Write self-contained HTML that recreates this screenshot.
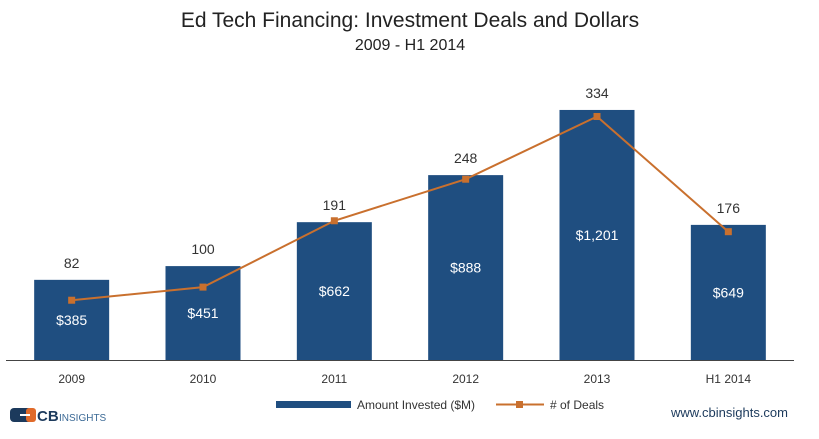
<!DOCTYPE html>
<html><head><meta charset="utf-8"><style>
body{margin:0;background:#fff;width:819px;height:439px;overflow:hidden;font-family:"Liberation Sans",sans-serif}
svg{display:block}
</style></head><body>
<svg id="c" width="819" height="439">
<text x="410" y="27" text-anchor="middle" font-size="21" fill="#222">Ed Tech Financing: Investment Deals and Dollars</text>
<text x="410" y="50" text-anchor="middle" font-size="16" fill="#222">2009 - H1 2014</text>
<g id="bars"></g><g id="line"></g><g id="labels"></g>
<line x1="6" y1="360.5" x2="794" y2="360.5" stroke="#444" stroke-width="1"/>
<g>
<rect x="276" y="401" width="75" height="7" fill="#1f4e80"/>
<text x="357" y="409" font-size="12" fill="#333">Amount Invested ($M)</text>
<line x1="496" y1="404.5" x2="544" y2="404.5" stroke="#c9702e" stroke-width="2"/>
<rect x="516" y="401" width="7" height="7" fill="#c9702e"/>
<text x="550" y="409" font-size="12" fill="#333">#  of Deals</text>
</g>
<g>
<rect x="10" y="408" width="24" height="14" rx="4" fill="#1c3a5c"/>
<rect x="26" y="408" width="10" height="14" rx="3" fill="#e06a2a"/>
<rect x="20" y="414" width="10" height="2" fill="#fff"/>
<text x="37" y="421" font-size="15" font-weight="bold" fill="#1c3a5c">CB</text>
<text x="59" y="421" font-size="10" fill="#3c6a96">INSIGHTS</text>
</g>
<text x="788" y="417" text-anchor="end" font-size="13" fill="#1c3a5c">www.cbinsights.com</text>
</svg>
<script>
const categories=["2009","2010","2011","2012","2013","H1 2014"];
const amounts=[385,451,662,888,1201,649];
const deals=[82,100,191,248,334,176];
const NS="http://www.w3.org/2000/svg";
const x0=6,x1=794,base=360;
const bw=(x1-x0)/categories.length;
const cx=i=>x0+bw*(i+0.5);
const yA=v=>base-v*0.2082;
const yD=v=>base-v*0.729;
function mk(t,a,p){const e=document.createElementNS(NS,t);for(const k in a)e.setAttribute(k,a[k]);p.appendChild(e);return e;}
const gb=document.getElementById('bars'),gl=document.getElementById('line'),gt=document.getElementById('labels');
amounts.forEach((v,i)=>{
 const r=mk('rect',{x:cx(i)-37.5,y:yA(v),width:75,height:base-yA(v),fill:'#1f4e80'},gb);
 
 
 const t=mk('text',{x:cx(i),y:(yA(v)+base)/2+5,'text-anchor':'middle','font-size':14,fill:'#fff'},gt);
 t.textContent='$'+v.toLocaleString('en-US');
 
 
 const d=mk('text',{x:cx(i),y:yA(v)-12,'text-anchor':'middle','font-size':14,fill:'#333'},gt);
 d.textContent=deals[i];
 
 
 const c=mk('text',{x:cx(i),y:383,'text-anchor':'middle','font-size':12,fill:'#333'},gt);
 c.textContent=categories[i];
 
 
});
const pl=mk('polyline',{points:deals.map((v,i)=>cx(i)+','+yD(v)).join(' '),fill:'none',stroke:'#c9702e','stroke-width':2},gl);


deals.forEach((v,i)=>{
 const m=mk('rect',{x:cx(i)-3.5,y:yD(v)-3.5,width:7,height:7,fill:'#c9702e'},gl);
 
 
});
</script>
</body></html>
